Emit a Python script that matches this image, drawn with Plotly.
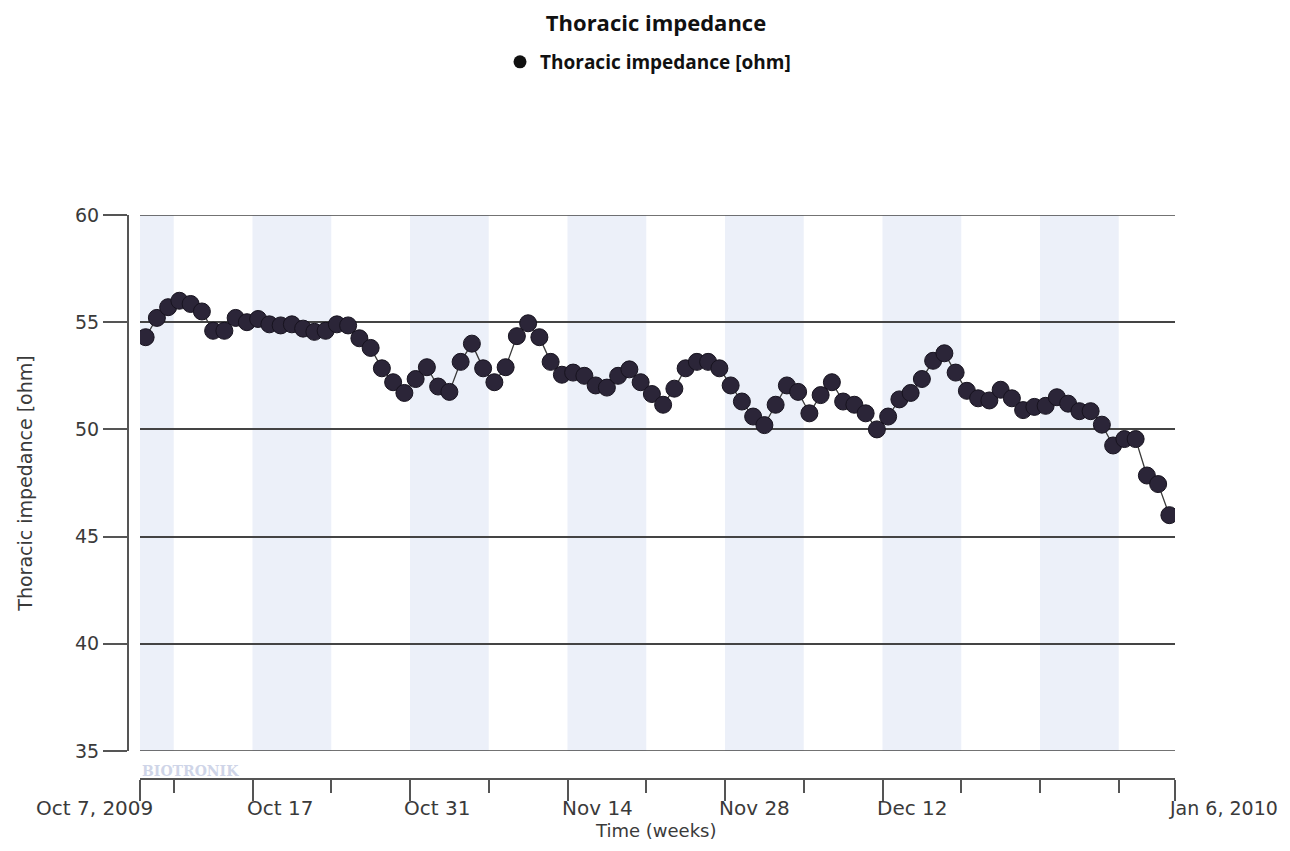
import pandas as pd
import plotly.graph_objects as go

# ---- data ----
start_date = "2009-10-07 12:00"
impedance = [
    54.3, 55.2, 55.7, 56.0, 55.85, 55.5, 54.6, 54.6, 55.2, 55.0,
    55.15, 54.9, 54.85, 54.9, 54.7, 54.55, 54.6, 54.9, 54.85, 54.25,
    53.8, 52.85, 52.2, 51.7, 52.35, 52.9, 52.0, 51.75, 53.15, 54.0,
    52.85, 52.2, 52.9, 54.35, 54.95, 54.3, 53.15, 52.55, 52.65, 52.5,
    52.05, 51.95, 52.5, 52.8, 52.2, 51.65, 51.15, 51.9, 52.85, 53.15,
    53.15, 52.85, 52.05, 51.3, 50.6, 50.2, 51.15, 52.05, 51.75, 50.75,
    51.6, 52.2, 51.3, 51.15, 50.75, 50.0, 50.6, 51.4, 51.7, 52.35,
    53.2, 53.55, 52.65, 51.8, 51.45, 51.35, 51.85, 51.45, 50.9, 51.05,
    51.1, 51.5, 51.2, 50.85, 50.85, 50.22, 49.25, 49.55, 49.55, 47.85,
    47.45, 46.0,
]
dates = pd.date_range(start_date, periods=len(impedance), freq="D")

x_range = ["2009-10-07", "2010-01-07"]
major_ticks = ["2009-10-07", "2009-10-17", "2009-10-31", "2009-11-14",
               "2009-11-28", "2009-12-12", "2010-01-07"]
major_labels = ["Oct 7, 2009", "Oct 17", "Oct 31", "Nov 14",
                "Nov 28", "Dec 12", "Jan 6, 2010"]
minor_ticks = ["2009-10-10", "2009-10-24", "2009-11-07", "2009-11-21",
               "2009-12-05", "2009-12-19", "2009-12-26", "2010-01-02"]
band_starts = ["2009-10-07", "2009-10-17", "2009-10-31", "2009-11-14",
               "2009-11-28", "2009-12-12", "2009-12-26"]
band_ends = ["2009-10-10", "2009-10-24", "2009-11-07", "2009-11-21",
             "2009-12-05", "2009-12-19", "2010-01-02"]
y_ticks = [35, 40, 45, 50, 55, 60]

# ---- geometry (page pixels; the page body adds an 8px margin) ----
OFF = 8
W, H = 1290 - OFF, 851 - 2 * OFF
left, right_edge = 128 - OFF, 1175 - OFF
top, bottom_edge = 215 - OFF, 779 - OFF
pw = right_edge - left
ph = bottom_edge - top
x_dom0 = (140 - OFF - left) / pw
y_dom0 = (bottom_edge - (751 - OFF)) / ph


def py(page_y):
    """page y pixel -> paper fraction"""
    return (bottom_edge - (page_y - OFF)) / ph


def px(page_x):
    return (page_x - OFF - left) / pw


FONT = "DejaVu Sans"
TXT = "#3a3a3a"
AX = "#555555"

fig = go.Figure()

fig.add_trace(go.Scatter(
    x=dates, y=impedance, mode="lines+markers",
    line=dict(color="#3a3a3a", width=1.3),
    marker=dict(size=17, color="#2b2538", line=dict(color="#17131f", width=1)),
    showlegend=False, hoverinfo="x+y",
))
# legend entry (marker only)
fig.add_trace(go.Scatter(
    x=[None], y=[None], mode="markers", name="Thoracic impedance [ohm]",
    marker=dict(size=13, color="#111111"), showlegend=True,
))

shapes = []
for s, e in zip(band_starts, band_ends):
    shapes.append(dict(type="rect", xref="x", yref="paper", x0=s, x1=e,
                       y0=y_dom0, y1=1, fillcolor="#ecf0f9", line_width=0,
                       layer="below"))
# edge grid lines (60 and 35)
for yv in (y_ticks[0], y_ticks[-1]):
    shapes.append(dict(type="line", xref="paper", yref="y", x0=x_dom0, x1=1,
                       y0=yv, y1=yv, line=dict(color="#444444", width=1.5),
                       layer="above"))

annotations = []
# x tick labels (aligned like the reference)
n_lab = len(major_labels)
for i, (tv, tl) in enumerate(zip(major_ticks, major_labels)):
    size = 20
    if i == 0:
        anchor, shift = "right", 15
    elif i == n_lab - 1:
        anchor, shift, size = "left", -8, 19
    else:
        anchor, shift = "left", -8
    annotations.append(dict(
        text=tl, xref="x", yref="paper", x=tv, y=py(808),
        xanchor=anchor, yanchor="middle", xshift=shift, showarrow=False,
        font=dict(family=FONT, size=size, color=TXT),
    ))
# x axis title
annotations.append(dict(
    text="Time (weeks)", xref="paper", yref="paper", x=px(656), y=py(830),
    xanchor="center", yanchor="middle", showarrow=False,
    font=dict(family=FONT, size=18, color=TXT),
))
# watermark
annotations.append(dict(
    text="<b>BIOTRONIK</b>", xref="paper", yref="paper",
    x=x_dom0, y=py(771), xanchor="left", yanchor="middle", showarrow=False,
    font=dict(family="DejaVu Serif", size=14, color="#cfd5e8"),
))

fig.update_layout(
    width=W, height=H,
    margin=dict(l=left, r=W - right_edge, t=top, b=H - bottom_edge, pad=0),
    paper_bgcolor="white", plot_bgcolor="white",
    font=dict(family=FONT, color=TXT, size=18),
    title=dict(text="<b>Thoracic impedance</b>", x=(656 - OFF) / W,
               xanchor="center", y=1 - (23 - OFF) / H, yanchor="middle",
               font=dict(family="Open Sans", size=22, color="#111111")),
    legend=dict(orientation="h", x=px(648), xanchor="center",
                y=py(62), yanchor="middle",
                font=dict(family="Open Sans", size=19, color="#111111",
                          weight="bold"),
                itemwidth=30, bgcolor="rgba(0,0,0,0)"),
    shapes=shapes,
    annotations=annotations,
    xaxis=dict(
        type="date", range=x_range, domain=[x_dom0, 1],
        anchor="free", position=0,
        showgrid=False, zeroline=False,
        showline=True, linecolor=AX, linewidth=2,
        tickmode="array", tickvals=major_ticks, ticktext=major_labels,
        showticklabels=False,
        ticks="outside", ticklen=21, tickwidth=2, tickcolor=AX,
        minor=dict(tickmode="array", tickvals=minor_ticks, ticks="outside",
                   ticklen=13, tickwidth=2, tickcolor=AX, showgrid=False),
        fixedrange=True,
    ),
    yaxis=dict(
        range=[35, 60], domain=[y_dom0, 1],
        anchor="free", position=0,
        tickmode="array", tickvals=y_ticks,
        showgrid=True, gridcolor="#444444", gridwidth=1.5,
        zeroline=False,
        showline=True, linecolor=AX, linewidth=2,
        ticks="outside", ticklen=24, tickwidth=2, tickcolor=AX,
        tickfont=dict(family=FONT, size=19, color=TXT),
        title=dict(text="Thoracic impedance [ohm]", standoff=36,
                   font=dict(family=FONT, size=19, color=TXT)),
        fixedrange=True,
    ),
)

fig.write_html("out.html")
